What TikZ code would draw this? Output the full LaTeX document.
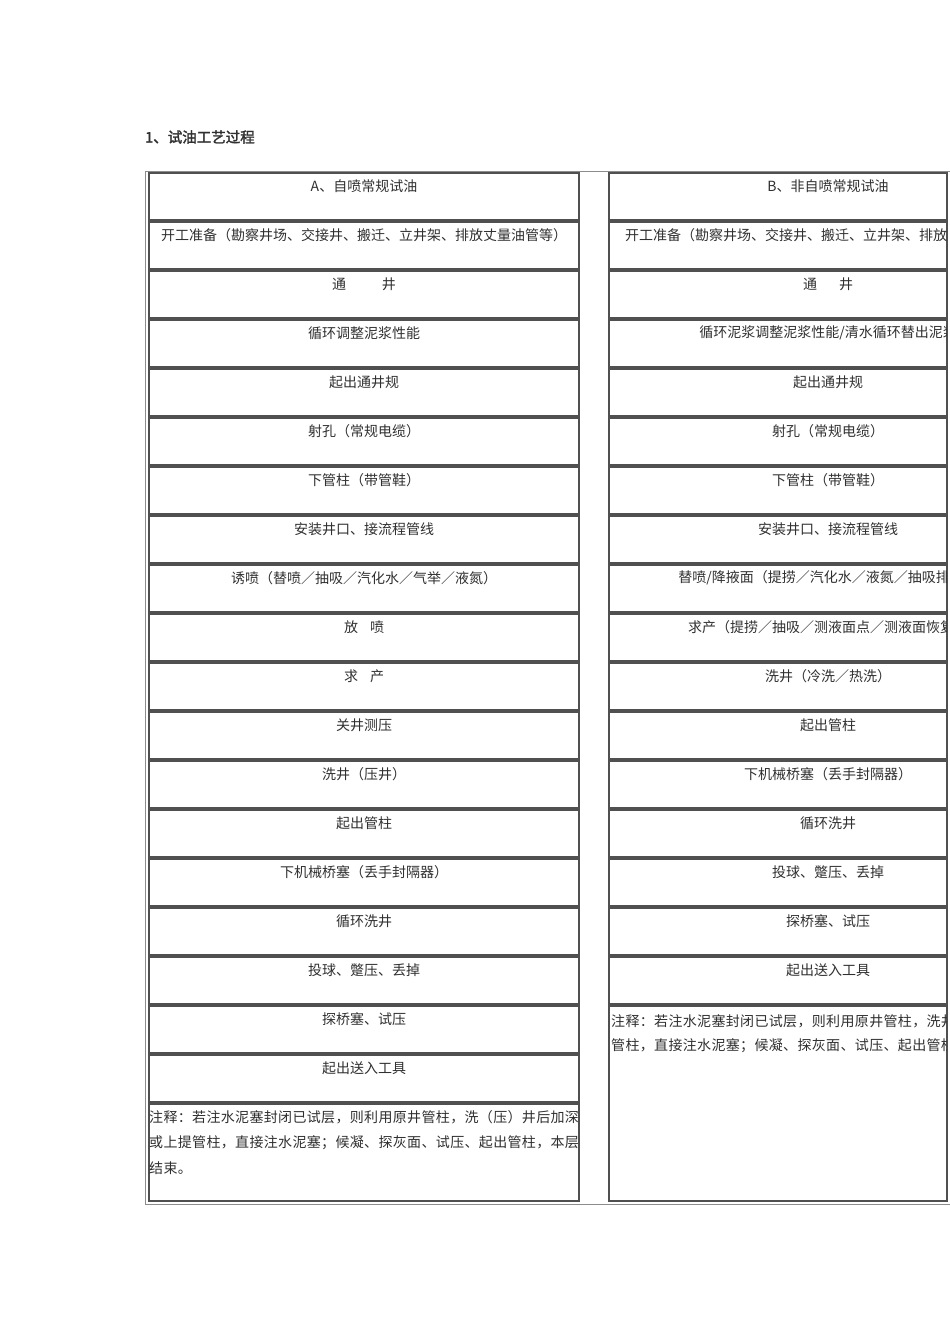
\documentclass[tikz,border=0pt]{standalone}
\usepackage{fontspec}
\newfontfamily\cjk{Noto Sans CJK SC}
\newfontfamily\cjkwide[LetterSpace=2.4]{Noto Sans CJK SC}
\newfontfamily\cjkbold[FakeBold=2]{Noto Sans CJK SC}
\definecolor{rule}{HTML}{505050}
\definecolor{frame}{HTML}{8C8C8C}
\definecolor{ink}{HTML}{303030}

\begin{document}
\begin{tikzpicture}[x=1pt,y=-1pt,
        cell/.style={draw=rule,line width=1.2pt,minimum height=47pt,inner sep=0pt},
        lcell/.style={cell,minimum width=430pt},
        rcell/.style={cell,minimum width=338pt},
        lab/.style={font=\cjk\fontsize{14}{17}\selectfont,text=ink,inner sep=0pt},
        note/.style={font=\cjkwide\fontsize{14}{17}\selectfont,text=ink,inner sep=0pt,anchor=west}]

  \useasboundingbox (0,0) rectangle (950,1344);
  \fill[white] (0,0) rectangle (950,1344);

  \node[font=\cjkbold\fontsize{14.5}{17}\selectfont,text=ink,anchor=west,inner sep=0pt] (title) at (145,137) {1、试油工艺过程};

  % outer table frame
  \draw[frame,line width=1pt] (145,171) rectangle (970,1204);

  % A column
  \foreach \t [count=\i] in {A、自喷常规试油,
      开工准备（勘察井场、交接井、搬迁、立井架、排放丈量油管等）,
      通\hspace{36pt}井, 循环调整泥浆性能, 起出通井规, 射孔（常规电缆）,
      下管柱（带管鞋）, 安装井口、接流程管线,
      诱喷（替喷／抽吸／汽化水／气举／液氮）, 放\hspace{12pt}喷,
      求\hspace{12pt}产, 关井测压, 洗井（压井）, 起出管柱,
      下机械桥塞（丢手封隔器）, 循环洗井, 投球、蹩压、丢掉,
      探桥塞、试压, 起出送入工具}{
    \pgfmathsetmacro\rowtop{172+49*(\i-1)}
    \node[lcell] (a\i) at (364,\rowtop+24.5) {};
    \node[lab] (ta\i) at (364,\rowtop+14) {\t};
  }
  \node[lcell,minimum height=97pt] (anote) at (364,1152.5) {};
  \node[note] (na1) at (149,1117) {注释：若注水泥塞封闭已试层，则利用原井管柱，洗（压）井后加深};
  \node[note] (na2) at (149,1143) {或上提管柱，直接注水泥塞；候凝、探灰面、试压、起出管柱，本层};
  \node[note] (na3) at (149,1168) {结束。};

  % B column
  \foreach \i in {1,...,17}{
    \pgfmathsetmacro\rowtop{172+49*(\i-1)}
    \node[rcell] (b\i) at (778,\rowtop+24.5) {};
  }
  \node[rcell,minimum height=195pt] (bnote) at (778,1103.5) {};

  \begin{scope}
    \clip (609,171) rectangle (946.5,1204);
    \foreach \t [count=\i] in {B、非自喷常规试油,
        开工准备（勘察井场、交接井、搬迁、立井架、排放丈量油管等）,
        通\hspace{22pt}井, 循环泥浆调整泥浆性能/清水循环替出泥浆,
        起出通井规, 射孔（常规电缆）, 下管柱（带管鞋）, 安装井口、接流程管线,
        替喷/降掖面（提捞／汽化水／液氮／抽吸排液）,
        求产（提捞／抽吸／测液面点／测液面恢复）\hspace{20pt},
        洗井（冷洗／热洗）, 起出管柱, 下机械桥塞（丢手封隔器）, 循环洗井,
        投球、蹩压、丢掉, 探桥塞、试压, 起出送入工具}{
      \pgfmathsetmacro\rowtop{172+49*(\i-1)}
      \node[lab] (tb\i) at (828,\rowtop+14) {\t};
    }
    \node[note] (nb1) at (611,1021) {注释：若注水泥塞封闭已试层，则利用原井管柱，洗井后加深或上提};
    \node[note] (nb2) at (611,1046) {管柱，直接注水泥塞；候凝、探灰面、试压、起出管柱，本层结束。};
  \end{scope}

\end{tikzpicture}
\end{document}
